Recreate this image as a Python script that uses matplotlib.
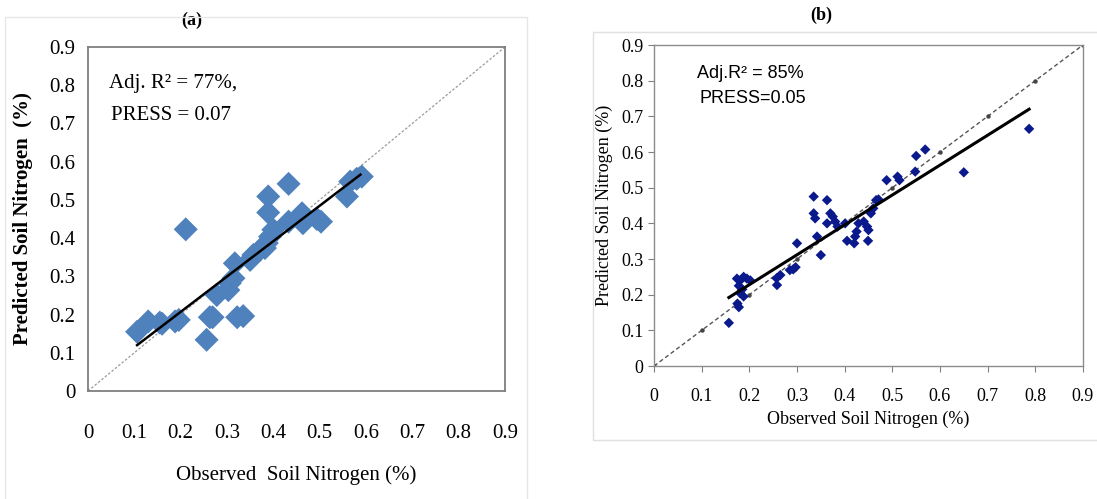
import numpy as np
import matplotlib.pyplot as plt
from matplotlib.patches import Rectangle

# Panel (a) observed vs predicted soil nitrogen (%)
obs_a = [0.106, 0.130, 0.155, 0.160, 0.188, 0.196, 0.211, 0.256, 0.263, 0.269,
         0.278, 0.303, 0.306, 0.314, 0.317, 0.322, 0.335, 0.350, 0.357, 0.371,
         0.382, 0.386, 0.393, 0.400, 0.389, 0.389, 0.433, 0.433, 0.462, 0.464,
         0.494, 0.503, 0.559, 0.566, 0.580, 0.591]
pred_a = [0.155, 0.182, 0.179, 0.176, 0.182, 0.186, 0.423, 0.134, 0.193, 0.193,
          0.251, 0.264, 0.282, 0.295, 0.334, 0.193, 0.196, 0.343, 0.356, 0.369,
          0.374, 0.387, 0.404, 0.422, 0.467, 0.509, 0.542, 0.443, 0.465, 0.439,
          0.450, 0.443, 0.509, 0.548, 0.555, 0.561]
fit_a_x = [0.106, 0.588]
fit_a_y = [0.120, 0.566]

# Panel (b)
obs_b = [0.157, 0.175, 0.178, 0.174, 0.181, 0.188, 0.195, 0.202, 0.178, 0.185,
         0.188, 0.180, 0.257, 0.258, 0.265, 0.285, 0.292, 0.297, 0.300, 0.335,
         0.335, 0.338, 0.342, 0.350, 0.363, 0.363, 0.370, 0.375, 0.380, 0.385,
         0.401, 0.405, 0.420, 0.422, 0.425, 0.429, 0.440, 0.447, 0.450, 0.449,
         0.455, 0.460, 0.466, 0.471, 0.488, 0.511, 0.515, 0.548, 0.550, 0.569,
         0.650, 0.787]
pred_b = [0.121, 0.175, 0.165, 0.245, 0.240, 0.250, 0.245, 0.240, 0.225, 0.215,
          0.195, 0.205, 0.246, 0.227, 0.255, 0.269, 0.271, 0.277, 0.344, 0.475,
          0.428, 0.414, 0.363, 0.311, 0.465, 0.400, 0.428, 0.419, 0.405, 0.391,
          0.400, 0.351, 0.344, 0.363, 0.377, 0.400, 0.405, 0.391, 0.381, 0.351,
          0.428, 0.442, 0.465, 0.467, 0.521, 0.531, 0.521, 0.545, 0.589, 0.607,
          0.543, 0.665]
fit_b_x = [0.157, 0.787]
fit_b_y = [0.192, 0.720]

ticks = [0, 0.1, 0.2, 0.3, 0.4, 0.5, 0.6, 0.7, 0.8, 0.9]
tick_labels = ['0', '0.1', '0.2', '0.3', '0.4', '0.5', '0.6', '0.7', '0.8', '0.9']

serif = 'Liberation Serif'
sans = 'Liberation Sans'

fig = plt.figure(figsize=(10.97, 4.99), dpi=100)

# faint panel frames
fig.patches.append(Rectangle((0.005, -0.01), 0.475, 0.975, transform=fig.transFigure,
                             fill=False, edgecolor='#e6e6e6', lw=1))
fig.patches.append(Rectangle((0.541, 0.118), 0.47, 0.818, transform=fig.transFigure,
                             fill=False, edgecolor='#e0e0e0', lw=1))

# ---- panel (a)
ax1 = fig.add_axes([0.0802, 0.2164, 0.3801, 0.6894])
ax1.plot([0, 0.9], [0, 0.9], ls=(0, (2, 1.5)), color='#9a9a9a', lw=0.9, zorder=1)
ax1.scatter(obs_a, pred_a, marker='D', s=150, color='#4F81BD', edgecolors='none', zorder=2)
ax1.plot(fit_a_x, fit_a_y, color='black', lw=1.8, zorder=3)
ax1.set_xlim(0, 0.9)
ax1.set_ylim(0, 0.9)
ax1.set_xticks(ticks)
ax1.set_xticklabels(tick_labels)
ax1.set_yticks(ticks)
ax1.set_yticklabels(tick_labels)
ax1.tick_params(axis='both', length=0, labelsize=15)
ax1.tick_params(axis='x', pad=24)
ax1.tick_params(axis='y', pad=9)
for lab in ax1.get_xticklabels() + ax1.get_yticklabels():
    lab.set_family(serif)
for sp in ax1.spines.values():
    sp.set_color('#7f7f7f')
    sp.set_linewidth(1.3)
ax1.set_xlabel('Observed  Soil Nitrogen (%)', family=serif, fontsize=15, labelpad=16)
ax1.set_ylabel('Predicted Soil Nitrogen  (%)', family=serif, fontsize=15,
               fontweight='bold', labelpad=12)
ax1.text(0.045, 0.805, 'Adj. R² = 77%,', family=serif, fontsize=15, va='center')
ax1.text(0.05, 0.72, 'PRESS = 0.07', family=serif, fontsize=15, va='center')
ax1.set_title('(a)', family=serif, fontsize=13, fontweight='bold', pad=16, x=0.25)

# ---- panel (b)
ax2 = fig.add_axes([0.5962, 0.2665, 0.3910, 0.6433])
ax2.plot([0, 0.9], [0, 0.9], ls=(0, (3, 2)), color='#555555', lw=1.0, zorder=1)
ax2.plot(ticks, ticks, ls='none', marker='o', markersize=2.2, color='#444444', zorder=1)
ax2.scatter(obs_b, pred_b, marker='D', s=28, color='#0a1a8c', edgecolors='none', zorder=2)
ax2.plot(fit_b_x, fit_b_y, color='black', lw=2.2, zorder=3)
ax2.set_xlim(0, 0.9)
ax2.set_ylim(0, 0.9)
ax2.set_xticks(ticks)
ax2.set_xticklabels(tick_labels)
ax2.set_yticks(ticks)
ax2.set_yticklabels(tick_labels)
ax2.tick_params(axis='both', direction='out', length=4, width=0.8, color='#808080',
                labelsize=13)
ax2.tick_params(axis='x', pad=12)
for lab in ax2.get_xticklabels() + ax2.get_yticklabels():
    lab.set_family(serif)
for sp in ax2.spines.values():
    sp.set_color('#8c8c8c')
    sp.set_linewidth(1.0)
ax2.set_xlabel('Observed Soil Nitrogen (%)', family=serif, fontsize=13, labelpad=4)
ax2.set_ylabel('Predicted Soil Nitrogen (%)', family=serif, fontsize=13, labelpad=6)
ax2.text(0.09, 0.82, 'Adj.R² = 85%', family=sans, fontsize=13, va='center')
ax2.text(0.095, 0.75, 'PRESS=0.05', family=sans, fontsize=13, va='center')
ax2.set_title('(b)', family=serif, fontsize=13, fontweight='bold', pad=18, x=0.39)

fig.savefig('out.png', dpi=100)
